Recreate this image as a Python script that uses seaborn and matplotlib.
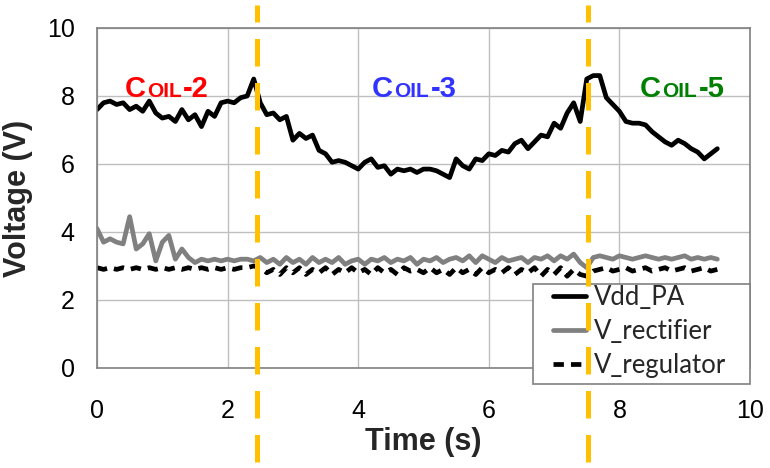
import numpy as np
import pandas as pd
import seaborn as sns
import matplotlib
matplotlib.use("Agg")
import matplotlib.pyplot as plt
from matplotlib.offsetbox import TextArea, HPacker, AnnotationBbox
from matplotlib.patches import Rectangle

# sample times (s), one every 0.1 s
time = np.round(np.linspace(0, 9.5, 96), 2)

vdd_pa = [7.6, 7.8, 7.85, 7.75, 7.8, 7.6, 7.7, 7.55, 7.85, 7.5,
          7.35, 7.4, 7.25, 7.6, 7.3, 7.45, 7.1, 7.55, 7.4, 7.8,
          7.85, 7.8, 7.95, 8.0, 8.5, 7.8, 7.45, 7.5, 7.3, 7.4,
          6.7, 6.9, 6.75, 6.85, 6.4, 6.3, 6.05, 6.1, 6.05, 5.95,
          5.85, 6.05, 6.15, 5.9, 5.95, 5.7, 5.85, 5.8, 5.85, 5.75,
          5.85, 5.85, 5.8, 5.7, 5.6, 6.15, 5.95, 5.85, 6.15, 6.1,
          6.3, 6.25, 6.4, 6.35, 6.6, 6.7, 6.45, 6.65, 6.85, 6.8,
          7.2, 7.05, 7.5, 7.8, 7.25, 8.5, 8.6, 8.6, 7.95, 7.75,
          7.55, 7.25, 7.2, 7.2, 7.15, 6.95, 6.8, 6.65, 6.55, 6.7,
          6.6, 6.45, 6.35, 6.15, 6.3, 6.45]

v_rectifier = [4.1, 3.7, 3.8, 3.7, 3.65, 4.45, 3.5, 3.65, 3.95, 3.15,
               3.7, 3.9, 3.2, 3.5, 3.25, 3.1, 3.2, 3.15, 3.2, 3.15,
               3.2, 3.15, 3.2, 3.2, 3.15, 3.25, 3.1, 3.2, 3.05, 3.25,
               3.1, 3.2, 3.05, 3.25, 3.1, 3.2, 3.1, 3.25, 3.05, 3.15,
               3.2, 3.05, 3.2, 3.15, 3.25, 3.1, 3.2, 3.15, 3.25, 3.05,
               3.2, 3.15, 3.25, 3.1, 3.2, 3.25, 3.15, 3.3, 3.1, 3.3,
               3.2, 3.1, 3.25, 3.15, 3.2, 3.25, 3.1, 3.25, 3.2, 3.3,
               3.15, 3.3, 3.2, 3.35, 3.1, 2.95, 3.25, 3.3, 3.25, 3.2,
               3.3, 3.25, 3.2, 3.25, 3.3, 3.25, 3.2, 3.25, 3.2, 3.25,
               3.3, 3.2, 3.25, 3.2, 3.25, 3.2]

v_regulator = [2.95, 2.9, 2.95, 2.9, 2.95, 2.9, 2.95, 2.9, 2.95, 2.9,
               2.95, 2.9, 2.95, 2.9, 2.95, 2.9, 2.95, 2.9, 2.95, 2.9,
               2.95, 2.9, 2.95, 2.95, 3.0, 2.95, 2.8, 2.9, 2.75, 2.95,
               2.8, 2.95, 2.75, 2.9, 2.8, 2.95, 2.75, 2.9, 2.8, 2.95,
               2.8, 2.9, 2.75, 2.95, 2.8, 2.9, 2.75, 2.95, 2.85, 2.9,
               2.8, 2.95, 2.8, 2.9, 2.75, 2.95, 2.8, 2.9, 2.75, 2.95,
               2.8, 2.9, 2.8, 2.95, 2.75, 2.9, 2.8, 2.95, 2.7, 2.9,
               2.75, 2.95, 2.7, 2.9, 2.75, 2.7, 2.85, 2.9, 2.95, 2.85,
               2.9, 2.95, 2.85, 2.9, 2.95, 2.85, 2.9, 2.95, 2.85, 2.9,
               2.95, 2.85, 2.9, 2.95, 2.85, 2.9]

series_names = ["Vdd_PA", "V_rectifier", "V_regulator"]
switch_times = [2.45, 7.52]
coil_names = ["2", "3", "5"]
coil_x = [1.07, 4.86, 8.96]
coil_colors = ["#FF0000", "#3333FF", "#008000"]

df = pd.DataFrame({"Time": time, "Vdd_PA": vdd_pa,
                   "V_rectifier": v_rectifier, "V_regulator": v_regulator})
df = df.melt(id_vars="Time", var_name="signal", value_name="Voltage")

sns.set_theme(style="white")
plt.rcParams["font.family"] = ["Liberation Sans", "DejaVu Sans"]

fig = plt.figure(figsize=(7.7, 4.68), dpi=100)
ax = fig.add_axes([0.126, 0.2137, 0.848, 0.7265])

sns.lineplot(data=df, x="Time", y="Voltage", hue="signal", style="signal",
             hue_order=series_names, style_order=series_names,
             palette={"Vdd_PA": "black", "V_rectifier": "#808080", "V_regulator": "black"},
             dashes={"Vdd_PA": "", "V_rectifier": "", "V_regulator": (2.2, 1.5)},
             linewidth=3.4, estimator=None, ax=ax)

ax.set_xlim(0, 10)
ax.set_ylim(0, 10)
ax.set_xticks([0, 2, 4, 6, 8, 10])
ax.set_yticks([0, 2, 4, 6, 8, 10])
ax.grid(True, color="#BFBFBF", linewidth=1)
for s in ax.spines.values():
    s.set_color("#808080")
    s.set_linewidth(1.2)
ax.tick_params(axis="both", length=0, labelsize=18, colors="black")
ax.tick_params(axis="x", pad=22)
ax.tick_params(axis="y", pad=16)

ax.set_xlabel("Time (s)", fontsize=22, fontweight="bold")
ax.set_ylabel("Voltage (V)", fontsize=22, fontweight="bold")
ax.xaxis.set_label_coords(0.5, -0.175)
ax.yaxis.set_label_coords(-0.098, 0.5)

# coil switch markers
for xv in switch_times:
    ax.axvline(xv, ymin=-0.276, ymax=1.068, color="#FFC000", linewidth=3.6,
               dashes=(5.5, 3.3), clip_on=False, zorder=10)

# "COIL-n" labels in small caps
for name, xc, col in zip(coil_names, coil_x, coil_colors):
    big = dict(color=col, fontsize=21, fontweight="bold")
    small = dict(color=col, fontsize=15, fontweight="bold")
    pack = HPacker(children=[TextArea("C", textprops=big),
                             TextArea("OIL", textprops=small),
                             TextArea("-" + name, textprops=big)],
                   align="baseline", pad=0, sep=1)
    ab = AnnotationBbox(pack, (xc, 7.8), xycoords="data", box_alignment=(0.5, 0),
                        frameon=False, pad=0)
    ax.add_artist(ab)

# legend frame drawn by hand so it can hang below the axes like the original
ax.add_patch(Rectangle((0.668, -0.047), 0.332, 0.294, transform=ax.transAxes,
                       facecolor="white", edgecolor="#808080", linewidth=1.2,
                       clip_on=False, zorder=4.9))
handles, labels = ax.get_legend_handles_labels()
ax.legend(handles, labels, loc="upper left", bbox_to_anchor=(0.698, 0.245),
          prop={"family": "Lato", "size": 18.5}, frameon=False,
          handlelength=1.3, handletextpad=0.3, labelspacing=0.36,
          borderpad=0, borderaxespad=0)

fig.savefig("out.png", dpi=100)
